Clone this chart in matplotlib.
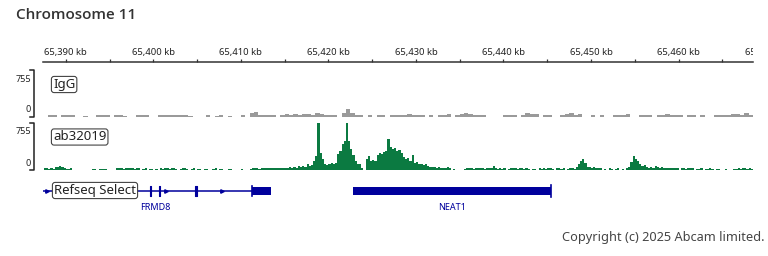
import numpy as np
import matplotlib
matplotlib.use('Agg')
import matplotlib.pyplot as plt

plt.rcParams['font.family'] = ['Noto Sans', 'DejaVu Sans']

W, H = 768, 256

# ---- genome window (kb) ----
view_start = 65387.4
view_end = 65468.5
major_ticks = [65390, 65400, 65410, 65420, 65430, 65440, 65450, 65460, 65470]
tick_labels = ['65,390 kb', '65,400 kb', '65,410 kb', '65,420 kb', '65,430 kb',
               '65,440 kb', '65,450 kb', '65,460 kb', '65,470 kb']
minor_ticks = [65395, 65405, 65415, 65425, 65435, 65445, 65455, 65465]

# ---- coverage tracks ----
track_max = 755
bin_start = 65387.5
ab_step = 0.25
ab32019 = [
    25, 35, 20, 30, 15, 55, 45, 70, 50, 40, 20, 15, 25, 0, 0, 0,
    0, 0, 0, 0, 0, 0, 15, 20, 0, 15, 20, 15, 20, 0, 0, 0,
    0, 25, 35, 30, 20, 40, 25, 30, 30, 20, 35, 25, 0, 15, 25, 0,
    20, 15, 0, 20, 0, 25, 15, 30, 30, 20, 35, 25, 20, 0, 20, 30,
    30, 20, 0, 15, 25, 0, 20, 15, 0, 20, 15, 0, 0, 20, 25, 0,
    20, 20, 0, 0, 15, 20, 0, 0, 0, 0, 15, 0, 0, 0, 20, 25,
    25, 25, 20, 30, 25, 30, 25, 30, 35, 30, 30, 35, 35, 40, 30, 40,
    45, 35, 50, 40, 60, 50, 70, 55, 90, 70, 85, 150, 230, 755, 270, 170,
    100, 80, 90, 110, 95, 120, 260, 310, 420, 470, 755, 460, 330, 240, 140, 90,
    90, 40, 0, 170, 220, 150, 160, 140, 240, 270, 250, 290, 310, 490, 370, 330,
    350, 300, 320, 270, 210, 170, 190, 140, 240, 110, 130, 90, 100, 80, 90, 70,
    50, 45, 55, 40, 45, 35, 30, 40, 45, 25, 0, 15, 0, 0, 0, 0,
    20, 30, 25, 35, 20, 30, 25, 30, 40, 20, 25, 35, 30, 70, 25, 20,
    25, 20, 30, 0, 20, 30, 40, 25, 20, 30, 30, 20, 25, 20, 0, 15,
    20, 0, 25, 20, 30, 20, 30, 25, 20, 0, 30, 25, 20, 30, 0, 20,
    30, 25, 20, 45, 100, 140, 180, 120, 55, 45, 35, 50, 40, 30, 25, 0,
    20, 0, 25, 20, 0, 20, 25, 0, 20, 0, 30, 45, 130, 230, 170, 140,
    90, 60, 75, 50, 40, 55, 35, 60, 45, 30, 50, 35, 40, 30, 35, 25,
    30, 30, 0, 25, 35, 20, 40, 25, 30, 0, 20, 20, 30, 0, 15, 20,
    25, 20, 0, 15, 20, 0, 0, 20, 0, 0, 0, 15, 20, 30, 20, 35,
    25, 20, 40, 20,
]
igg_step = 0.5
igg = [
    0, 25, 30, 0, 35, 30, 40, 0,
    0, 20, 0, 0, 25, 30, 25, 0,
    25, 30, 20, 0, 0, 35, 40, 30,
    0, 0, 25, 30, 25, 30, 35, 25,
    30, 20, 0, 0, 0, 25, 0, 20,
    25, 0, 20, 0, 0, 30, 0, 60,
    80, 30, 25, 35, 30, 0, 40, 45,
    35, 50, 40, 45, 55, 40, 60, 45,
    30, 40, 35, 0, 60, 135, 70, 25,
    30, 0, 25, 0, 35, 30, 0, 40,
    35, 40, 30, 45, 35, 30, 40, 0,
    30, 0, 35, 30, 45, 0, 30, 45,
    70, 50, 35, 30, 40, 0, 0, 0,
    0, 30, 35, 25, 0, 30, 60, 45,
    50, 0, 30, 25, 0, 0, 30, 55,
    65, 40, 45, 0, 0, 30, 0, 25,
    0, 0, 35, 40, 30, 45, 0, 0,
    30, 40, 35, 0, 40, 30, 45, 35,
    40, 30, 0, 35, 25, 0, 30, 0,
    0, 35, 40, 30, 35, 45, 50, 40,
    60, 35,
]

# ---- genes (kb) ----
frmd8_span = (65386.0, 65413.5)
frmd8_exons = [(65399.62, 65399.76), (65400.68, 65400.82), (65404.74, 65404.94)]
frmd8_utr = (65411.22, 65413.5)
frmd8_arrows = [65387.9, 65401.4, 65407.9]
neat1_span = (65422.8, 65445.45)

green = '#0b7a41'
gray = '#9a9a9a'
navy = '#00009c'


def box(x0, y0, x1, y1):
    return [x0 / W, 1 - y1 / H, (x1 - x0) / W, (y1 - y0) / H]


fig = plt.figure(figsize=(W / 100, H / 100), dpi=100)

# ruler
axr = fig.add_axes(box(43, 40, 753, 62))
axr.set_xlim(view_start, view_end)
axr.set_ylim(0, 1)
for s in ['top', 'left', 'right']:
    axr.spines[s].set_visible(False)
axr.spines['bottom'].set_color('#333333')
axr.spines['bottom'].set_linewidth(1.1)
axr.set_yticks([])
axr.set_xticks(major_ticks)
axr.set_xticks(minor_ticks, minor=True)
axr.set_xticklabels([])
axr.tick_params(axis='x', which='both', direction='in', length=2.5, width=0.9, color='#333333')
for t, lab in zip(major_ticks, tick_labels):
    axr.text(t, 0.45, lab, ha='center', va='center', fontsize=6.8, color='#222222', clip_on=True)
axr.set_xlim(view_start, view_end)

# coverage tracks
for rect, vals, step, col in [((43, 70, 753, 117), igg, igg_step, gray),
                              ((43, 123, 753, 170), ab32019, ab_step, green)]:
    ax = fig.add_axes(box(*rect))
    edges = bin_start + step * np.arange(len(vals) + 1)
    ax.stairs(vals, edges, fill=True, color=col, linewidth=0)
    ax.set_xlim(view_start, view_end)
    ax.set_ylim(0, track_max)
    ax.set_axis_off()

# gene track (y in pixel rows)
axg = fig.add_axes(box(43, 180, 753, 215))
axg.set_xlim(view_start, view_end)
axg.set_ylim(215, 180)
axg.set_axis_off()
yc = 191
axg.plot(frmd8_span, [yc, yc], color=navy, lw=1.1, solid_capstyle='butt')
for a, b in frmd8_exons:
    axg.fill_between([a, b], yc - 5, yc + 5, color=navy, linewidth=0.8, edgecolor=navy)
axg.fill_between(frmd8_utr, yc - 4, yc + 4, color=navy, linewidth=0)
axg.plot([frmd8_utr[0]] * 2, [yc - 5, yc + 5], color=navy, lw=1.2)
axg.plot(frmd8_arrows, [yc] * len(frmd8_arrows), ls='none', marker='>', ms=2.5, color=navy)
axg.fill_between(neat1_span, yc - 4, yc + 4, color=navy, linewidth=0)
axg.plot([neat1_span[1]] * 2, [yc - 6, yc + 6], color=navy, lw=1.2)
axg.text(65400.2, 207, 'FRMD8', ha='center', va='center', fontsize=6.5, color=navy)
axg.text(sum(neat1_span) / 2, 207, 'NEAT1', ha='center', va='center', fontsize=6.5, color=navy)

# overlay for frame decorations
ax0 = fig.add_axes([0, 0, 1, 1], zorder=5)
ax0.set_xlim(0, W)
ax0.set_ylim(H, 0)
ax0.set_axis_off()
ax0.patch.set_visible(False)

ax0.text(16, 15, 'Chromosome 11', fontsize=11, fontweight='semibold', color='#333333',
         ha='left', va='center', family=['Open Sans', 'DejaVu Sans'])

for top, bot in [(70, 117), (123, 170)]:
    ax0.plot([30, 34, 34, 30], [top, top, bot, bot], color='#222222', lw=1.1)
    ax0.text(31, top + 9, str(track_max), ha='right', va='center', fontsize=6.5, color='#222222')
    ax0.text(31, bot - 7, '0', ha='right', va='center', fontsize=6.5, color='#222222')

lbl_box = dict(boxstyle='round,pad=0.12,rounding_size=0.2', fc='white', ec='#444444', lw=0.8)
ax0.text(53, 84.5, 'IgG', ha='left', va='center', fontsize=9.5, color='#222222', bbox=lbl_box)
ax0.text(53, 137, 'ab32019', ha='left', va='center', fontsize=9.5, color='#222222', bbox=lbl_box)
ax0.text(54, 190.5, 'Refseq Select', ha='left', va='center', fontsize=9.5, color='#222222', bbox=lbl_box)

ax0.text(764, 237, 'Copyright (c) 2025 Abcam limited.', ha='right', va='center',
         fontsize=9.2, color='#444444')

fig.savefig('out.png', dpi=100)
